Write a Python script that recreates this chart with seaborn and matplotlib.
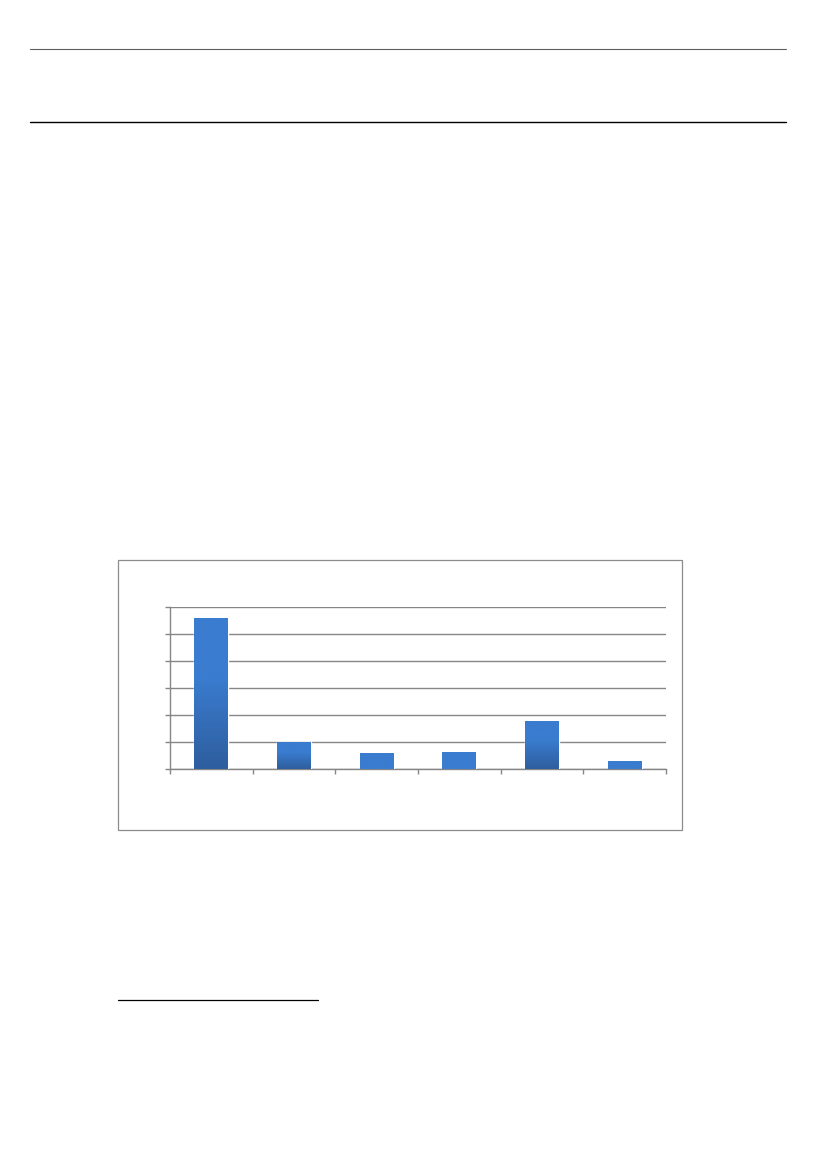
import numpy as np
import pandas as pd
import matplotlib
matplotlib.use("Agg")
import matplotlib.pyplot as plt
import seaborn as sns
from matplotlib.colors import LinearSegmentedColormap

# values (no labels are shown in the reference)
categories = ["A", "B", "C", "D", "E", "F"]
values = [5.6, 1.0, 0.6, 0.64, 1.79, 0.31]

data = pd.DataFrame({"cat": categories, "val": values})

sns.set_theme(style="white")

fig = plt.figure(figsize=(8.26, 11.69), dpi=100)
fig.patch.set_facecolor("white")

# page rules
fig.add_artist(plt.Line2D([0.0363, 0.9516], [0.9581, 0.9581], color="#5f5f5f", lw=0.8))
fig.add_artist(plt.Line2D([0.0363, 0.9516], [0.8956, 0.8956], color="black", lw=1.0))
fig.add_artist(plt.Line2D([0.1429, 0.385], [0.1446, 0.1446], color="black", lw=0.9))

# chart frame
fig.add_artist(plt.Rectangle((0.1429, 0.29), 0.6828, 0.231, transform=fig.transFigure,
                             fill=False, edgecolor="#8c8c8c", lw=0.9))

ax = fig.add_axes([0.2058, 0.3422, 0.6005, 0.1386])
sns.barplot(x="cat", y="val", data=data, color="#3a7ccf", width=0.41, ax=ax, zorder=3)

ax.set_xlim(-0.5, 5.5)
ax.set_ylim(0, 6)
ax.set_yticks(range(0, 7))
ax.set_xticks(np.arange(-0.5, 6, 1))
ax.set_xticklabels([])
ax.set_yticklabels([])
ax.set_xlabel("")
ax.set_ylabel("")
ax.grid(axis="y", color="#868686", lw=1.0, zorder=0)
ax.set_axisbelow(True)
for s in ["top", "right"]:
    ax.spines[s].set_visible(False)
for s in ["left", "bottom"]:
    ax.spines[s].set_color("#868686")
    ax.spines[s].set_linewidth(1.0)
ax.tick_params(axis="both", direction="out", length=3.5, width=1.0, color="#868686",
               left=True, bottom=True)

# gradient fill: light at top, darker at the bottom of taller bars
light = np.array([0x3a, 0x7c, 0xcf]) / 255
dark = np.array([0x2e, 0x5e, 0x9e]) / 255
for patch, v in zip(ax.patches, values):
    x0, y0 = patch.get_x(), patch.get_y()
    w, h = patch.get_width(), patch.get_height()
    strength = float(np.clip((v - 0.7) / 0.3, 0, 1))
    end = light + (dark - light) * strength
    cmap = LinearSegmentedColormap.from_list("g", [(0, end), (0.6, light), (1, light)])
    grad = np.linspace(0, 1, 256).reshape(-1, 1)
    im = ax.imshow(grad, extent=(x0, x0 + w, y0, y0 + h), origin="lower",
                   cmap=cmap, aspect="auto", zorder=4)
    im.set_clip_path(patch)
ax.set_xlim(-0.5, 5.5)
ax.set_ylim(0, 6)

fig.savefig("out.png", dpi=100, facecolor="white")
